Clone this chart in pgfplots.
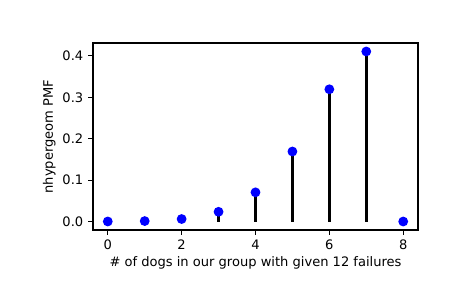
\documentclass[border=0pt]{standalone}
\usepackage{pgfplots}
\pgfplotsset{compat=1.18}
\usepackage{fontspec}
\setmainfont{DejaVu Sans}
\begin{document}
\begin{tikzpicture}
\begin{axis}[
  at={(0,0)}, anchor=south west,
  scale only axis,
  width=234pt, height=134.64pt,
  xmin=-0.4, xmax=8.4,
  ymin=-0.0205, ymax=0.431,
  xtick={0,2,4,6,8},
  ytick={0,0.1,0.2,0.3,0.4},
  yticklabel style={/pgf/number format/.cd, fixed, fixed zerofill, precision=1},
  /pgf/number format/assume math mode=true,
  tick align=outside,
  tick pos=left,
  major tick length=3.5pt,
  every tick/.style={black, line width=0.8pt},
  axis line style={line width=0.8pt},
  ticklabel style={font=\fontsize{9.4}{11}\selectfont},
  label style={font=\fontsize{9.4}{11}\selectfont},
  xlabel={\# of dogs in our group with given 12 failures},
  ylabel={nhypergeom PMF},
  xlabel style={yshift=2pt},
  ylabel style={yshift=-2pt},
  clip=false,
]
\addplot[ycomb, black, line width=2pt] coordinates {
  (0,0.000103) (1,0.001084) (2,0.006037) (3,0.023478) (4,0.070433)
  (5,0.169040) (6,0.319298) (7,0.410526) (8,0.0)
};
\addplot[only marks, mark=*, mark size=3pt, color=blue, mark options={draw=blue, fill=blue, line width=1pt}] coordinates {
  (0,0.000103) (1,0.001084) (2,0.006037) (3,0.023478) (4,0.070433)
  (5,0.169040) (6,0.319298) (7,0.410526) (8,0.0)
};
\end{axis}
\pgfresetboundingbox
\path (-66.96pt,-41.76pt) rectangle (267.84pt,165.6pt);
\end{tikzpicture}
\end{document}
